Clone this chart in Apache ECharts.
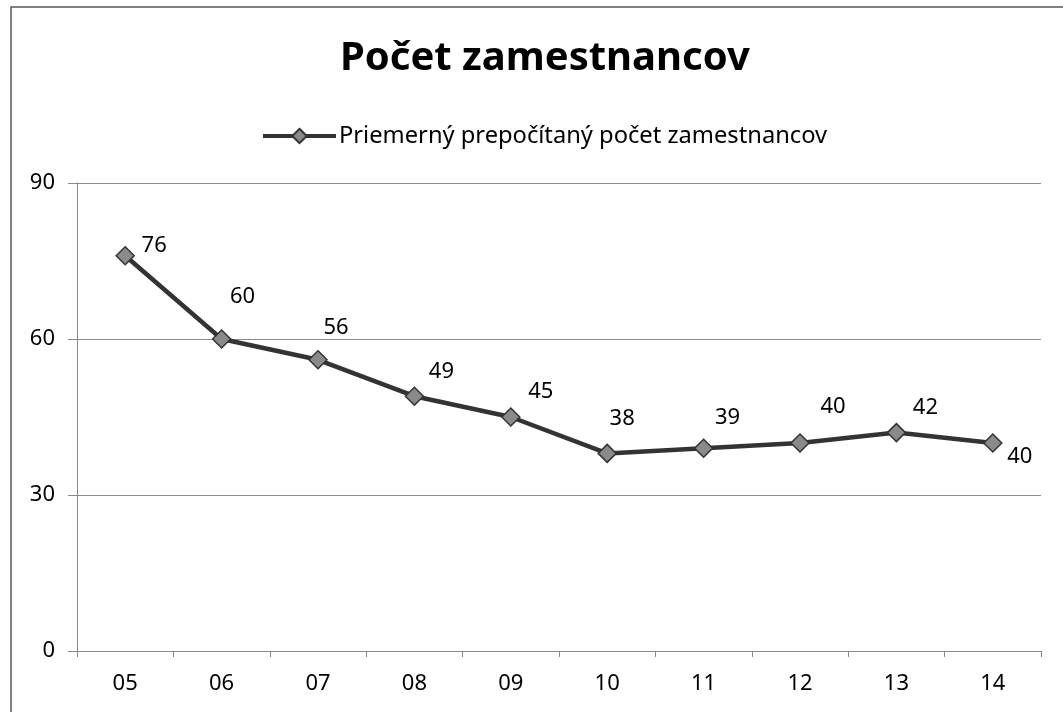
<!DOCTYPE html>
<html>
<head>
<meta charset="utf-8">
<script src="https://cdn.jsdelivr.net/npm/echarts@6/dist/echarts.min.js"></script>
<style>
html,body{margin:0;padding:0;background:#fff;}
#chart{width:1063px;height:712px;}
</style>
</head>
<body>
<div id="chart"></div>
<script>
const categories = ['05','06','07','08','09','10','11','12','13','14'];
const values = [76, 60, 56, 49, 45, 38, 39, 40, 42, 40];
const seriesName = 'Priemerný prepočítaný počet zamestnancov';
const titleText = 'Počet zamestnancov';
// label offsets (style only), relative to each point
const labelOffsets = [[29,-10],[21,-42],[18,-32],[27,-24],[30,-25],[15,-35],[24,-30],[33,-36],[29,-25],[27,14]];

const chart = echarts.init(document.getElementById('chart'));
const font = 'Noto Sans, sans-serif';
chart.setOption({
  backgroundColor: '#fff',
  animation: false,
  title: {
    text: titleText,
    left: 335,
    top: 34,
    textStyle: {fontFamily: font, fontSize: 40, fontWeight: 'bold', color: '#000'}
  },
  legend: {
    top: 119,
    left: 256,
    itemWidth: 73,
    itemHeight: 18,
    itemGap: 4,
    textStyle: {fontFamily: font, fontSize: 23.7, color: '#000', padding: [0,0,0,-2]},
    lineStyle: {width: 4},
    data: [seriesName]
  },
  graphic: [{
    type: 'rect',
    shape: {x: 11, y: 7, width: 1100, height: 800},
    style: {fill: 'none', stroke: '#555', lineWidth: 1.5},
    silent: true
  }],
  grid: {left: 77, right: 22, top: 183, bottom: 61},
  xAxis: {
    type: 'category',
    data: categories,
    boundaryGap: true,
    axisLine: {lineStyle: {color: '#888', width: 1}},
    axisTick: {show: true, length: 6, alignWithLabel: false, lineStyle: {color: '#888'}},
    axisLabel: {fontFamily: font, fontSize: 22, color: '#000', margin: 22}
  },
  yAxis: {
    type: 'value',
    min: 0, max: 90, interval: 30,
    axisLine: {show: true, lineStyle: {color: '#888', width: 1}},
    axisTick: {show: true, length: 9, lineStyle: {color: '#888'}},
    axisLabel: {fontFamily: font, fontSize: 22, color: '#000', margin: 22},
    splitLine: {lineStyle: {color: '#8a8a8a', width: 1}}
  },
  series: [{
    name: seriesName,
    type: 'line',
    data: values.map((v, i) => ({
      value: v,
      label: {offset: labelOffsets[i]}
    })),
    symbol: 'diamond',
    symbolSize: 18,
    lineStyle: {color: '#333', width: 4.5},
    itemStyle: {color: '#8a8a8a', borderColor: '#333', borderWidth: 1.5},
    label: {
      show: true,
      position: 'inside',
      align: 'center',
      verticalAlign: 'middle',
      fontFamily: font,
      fontSize: 22,
      color: '#000'
    }
  }]
});
</script>
</body>
</html>
